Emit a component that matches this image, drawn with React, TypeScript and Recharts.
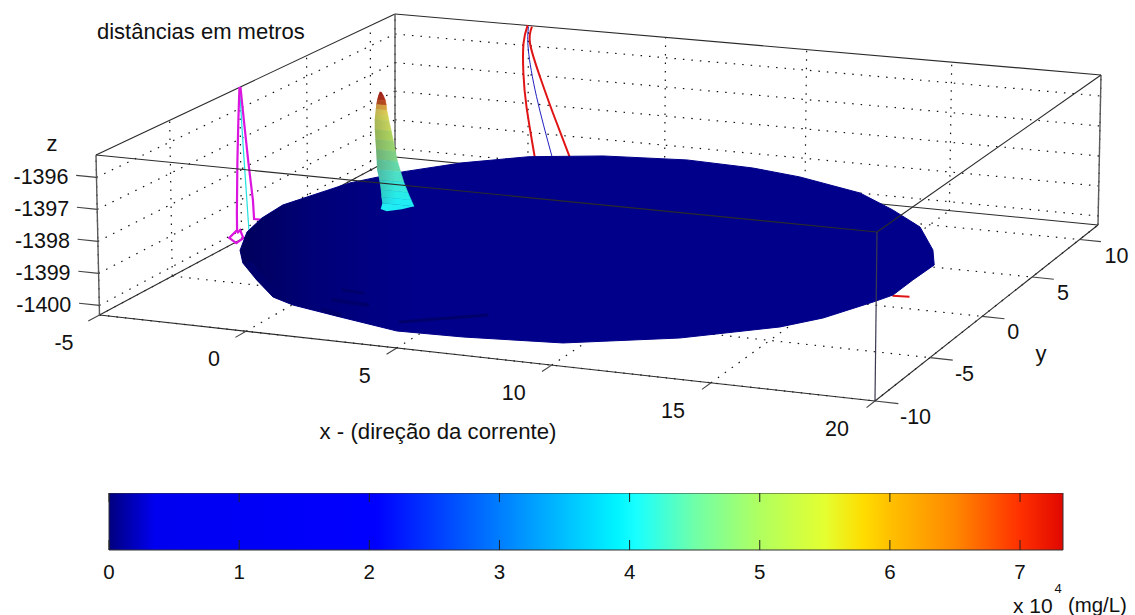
import { Area, ComposedChart, ReferenceLine, Scatter, ScatterChart, XAxis, YAxis } from 'recharts'

const FONT = '"Liberation Sans", Arial, sans-serif'

// axis ranges and ticks
const X_RANGE = [-5, 20]
const Y_RANGE = [-10, 12]
const Z_RANGE = [-1400.3, -1395.3]
const xTicks = [-5, 0, 5, 10, 15, 20]
const yTicks = [-10, -5, 0, 5, 10]
const zTicks = [-1396, -1397, -1398, -1399, -1400]
const colorTicks = [0, 1, 2, 3, 4, 5, 6, 7]

// cloud rim, upper back half then lower front half (metres)
const rimX = [-2.2, -2.98, -3.32, -3.43, -2.66, -1.67, -0.34, 1.39, 3.65, 6.44, 8.85, 10.7, 13.22, 14.91, 16.4, 17.67, 18.28, 17.06, 17.07, 16.78, 15.99, 15.14, 12.81, 9.8, 6.79, 4.68, 2.43, 0.51, -0.46, -1.81, -3.12, -3.92]
const rimY = [-5.81, -3.71, -1.92, -0.14, 3.32, 5.34, 7.21, 8.82, 9.83, 10.35, 10.12, 9.55, 8.26, 6.56, 4.82, 2.27, 0.56, 2.2, 0.28, -0.72, -3.04, -4.49, -6.79, -8.62, -9.13, -9.26, -8.45, -7.73, -7.11, -5.46, -3.75, -2.32]
const rimZ = [-1399, -1399, -1399, -1399, -1399, -1399, -1399, -1399, -1399, -1399, -1399, -1399, -1399, -1399, -1399, -1399, -1399, -1400, -1400, -1400, -1400, -1400, -1400, -1400, -1400, -1400, -1400, -1400, -1400, -1400, -1400, -1400]

// darker folds on the underside of the cloud
const foldX = [[1.19, 1.92], [1.4, 2.62], [1.61, 2.33], [4.35, 6.48], [-2.8, -1.66, -0.66]]
const foldY = [[-5.54, -5.63], [-6.73, -6.87], [-7.91, -8.24], [-8.29, -6.56], [-3.89, -5.4, -6.55]]
const foldWidth = [3, 4, 4, 3, 7]

// plume silhouette, slice by slice from the tip down
const plumeZ = [-1395.03, -1395.16, -1395.29, -1395.45, -1395.61, -1395.78, -1395.94, -1396.27, -1396.59, -1396.92, -1397.24, -1397.57, -1397.9, -1398.22, -1398.45, -1398.65]
const plumeLeft = [-0.03, -0.08, -0.12, -0.15, -0.17, -0.19, -0.21, -0.21, -0.19, -0.17, -0.15, -0.14, -0.06, -0.01, 0.01, 0.04]
const plumeRight = [0.03, 0.11, 0.17, 0.2, 0.22, 0.26, 0.29, 0.37, 0.44, 0.51, 0.58, 0.69, 0.8, 0.94, 1.05, 1.15]
const plumeColors = ['#b41c10', '#c02410', '#cc4a18', '#f0b040', '#f0dc58', '#e4e458', '#d0e060', '#b4dc60', '#9cd870', '#80d488', '#64d8a8', '#4ce0c8', '#38e8dc', '#28ece8', '#20ecf4']
const plumeBaseX = [1.15, 0.95, 0.6, 0.3, 0.04]
const plumeBaseY = [0, -0.5, -0.9, -0.7, 0]

// contour projected on the left wall
const magentaLeftY = [-0.02, -0.13, -0.24, -0.32, -0.32, -0.9, -0.39, 0.13, -0.1, -0.32]
const magentaLeftZ = [-1395.29, -1396.35, -1397.74, -1399.37, -1399.93, -1400.05, -1400.34, -1400.3, -1399.98, -1400.03]
const magentaRightY = [0.05, 0.27, 0.57, 0.87, 0.94, 1.61]
const magentaRightZ = [-1395.3, -1396.44, -1397.92, -1399.22, -1399.86, -1400.05]
const cyanWallY = [-0.02, 0.2, 0.57]
const cyanWallZ = [-1395.29, -1397.31, -1400.3]

// contour projected on the back wall
const redLeftX = [-0.03, -0.18, -0.18, -0.06, 0.25]
const redLeftZ = [-1395.29, -1395.93, -1396.97, -1398.12, -1399.82]
const redRightX = [0.13, 0.06, 0.43, 0.92, 1.54]
const redRightZ = [-1395.33, -1395.91, -1397.03, -1398.26, -1399.71]
const blueWallX = [0, 0, 0.31, 0.89]
const blueWallZ = [-1395.34, -1396.15, -1397.74, -1399.76]

// contour on the floor, sticking out at the far end
const redFloorX = [16.73, 17.25]
const redFloorY = [1.24, 1.33]

// colorbar
const COLOR_MAX = 7.33
const jetValues = [0, 0.35, 2.05, 3.9, 4.05, 4.5, 5, 5.5, 5.8, 6, 6.5, 7, 7.33]
const jetColors = ['#00007f', '#0000f0', '#0000ff', '#00f4ff', '#18ffff', '#70ffa8', '#b0ff60', '#e4ff30', '#ffdc00', '#ffc000', '#ff8800', '#ff3000', '#e00800']

// screen position of the eight box corners, [bottom, top]
const CORNERS = {
  a: [[99.5, 315], [96, 155]],
  b: [[875, 401], [877, 232]],
  c: [[1098, 225], [1101, 75]],
  d: [[395, 157], [395, 14]],
}

const warp = (t: number, r: number) => t / (t + r * (1 - t))
const mix = (p: number[], q: number[], t: number) => [p[0] + (q[0] - p[0]) * t, p[1] + (q[1] - p[1]) * t]

// perspective view of the box, the MATLAB camera
function project(x: number, y: number, z: number) {
  const u = warp((x - X_RANGE[0]) / (X_RANGE[1] - X_RANGE[0]), 1.0726)
  const v = warp((y - Y_RANGE[0]) / (Y_RANGE[1] - Y_RANGE[0]), 0.9)
  const w = (z - Z_RANGE[0]) / (Z_RANGE[1] - Z_RANGE[0])
  const level = (i: number) =>
    mix(mix(CORNERS.a[i], CORNERS.b[i], u), mix(CORNERS.d[i], CORNERS.c[i], u), v)
  const [px, py] = mix(level(0), level(1), w)
  return { px, py }
}

const Blank = () => null

function path(key: string, pts: number[][], line: Record<string, unknown>, joint: 'linear' | 'natural' = 'linear') {
  return (
    <Scatter
      key={key}
      data={pts.map(([x, y, z]) => project(x, y, z))}
      line={line}
      lineType="joint"
      lineJointType={joint}
      shape={Blank}
      isAnimationActive={false}
    />
  )
}

const [x0, x1] = X_RANGE
const [y0, y1] = Y_RANGE
const [z0, z1] = Z_RANGE

const DOT = { stroke: '#111', strokeWidth: 1.2, strokeDasharray: '1.5 7' }
const EDGE = { stroke: '#2a2a2a', strokeWidth: 1.1 }
const POST = { stroke: '#5a5a5a', strokeWidth: 1.4 }
const TICK = { stroke: '#444', strokeWidth: 1.1 }

const gridLines = [
  ...xTicks.map(x => [[x, y0, z0], [x, y1, z0]]),
  ...xTicks.map(x => [[x, y1, z0], [x, y1, z1]]),
  ...yTicks.map(y => [[x0, y, z0], [x1, y, z0]]),
  ...yTicks.map(y => [[x0, y, z0], [x0, y, z1]]),
  ...zTicks.map(z => [[x0, y0, z], [x0, y1, z]]),
  ...zTicks.map(z => [[x0, y1, z], [x1, y1, z]]),
]

const backEdges = [
  [[x0, y0, z0], [x0, y1, z0]],
  [[x0, y1, z0], [x1, y1, z0]],
  [[x1, y0, z0], [x1, y1, z0]],
  [[x0, y0, z0], [x1, y0, z0]],
  [[x0, y0, z1], [x0, y1, z1]],
  [[x0, y1, z1], [x1, y1, z1]],
]

const backPosts = [
  [[x0, y1, z0], [x0, y1, z1]],
  [[x1, y1, z0], [x1, y1, z1]],
  [[x0, y0, z0], [x0, y0, z1]],
]

const frontEdges = [
  [[x0, y0, z1], [x1, y0, z1]],
  [[x1, y0, z1], [x1, y1, z1]],
]

const tickMarks = [
  ...xTicks.map(x => [[x, y0, z0], [x, y0 - 0.75, z0]]),
  ...yTicks.map(y => [[x1, y, z0], [x1 + 0.7, y, z0]]),
  ...zTicks.map(z => [[x0, y0, z], [x0 - 0.7, y0, z]]),
]

const plumeStrips = plumeColors.map((_, i) => [
  [plumeLeft[i], 0, plumeZ[i]],
  [plumeRight[i], 0, plumeZ[i]],
  [plumeRight[i + 1], 0, plumeZ[i + 1]],
  [plumeLeft[i + 1], 0, plumeZ[i + 1]],
])

const tickLabels = [
  ...xTicks.map(x => ({ ...project(x, y0, z0), label: String(x), dx: -26, dy: 28, anchor: 'end' })),
  ...yTicks.map(y => ({ ...project(x1, y, z0), label: String(y), dx: 25, dy: 16, anchor: 'start' })),
  ...zTicks.map(z => ({ ...project(x0, y0, z), label: String(z), dx: -28, dy: 0, anchor: 'end' })),
]

const notes = [
  { px: 97, py: 31, label: 'distâncias em metros', size: 22, anchor: 'start' },
  { px: 438, py: 431, label: 'x - (direção da corrente)', size: 22.2, anchor: 'middle' },
  { px: 52, py: 143, label: 'z', size: 22, anchor: 'middle' },
  { px: 1041, py: 353, label: 'y', size: 22, anchor: 'middle' },
  { px: 1013, py: 605, label: 'x 10', size: 21, anchor: 'start' },
  { px: 1058, py: 588, label: '4', size: 13, anchor: 'middle' },
  { px: 1068, py: 605, label: '(mg/L)', size: 20.4, anchor: 'start' },
]

function LabelShape(p: any) {
  const d = p.payload
  return (
    <text
      x={p.cx + (d.dx ?? 0)}
      y={p.cy + (d.dy ?? 0)}
      textAnchor={d.anchor}
      dominantBaseline="central"
      fontFamily={FONT}
      fontSize={d.size ?? 21.5}
      fill="#111"
    >
      {d.label}
    </text>
  )
}

function ColorTick(p: any) {
  return (
    <g>
      <line x1={p.x} x2={p.x} y1={p.y - 57} y2={p.y - 48} stroke="#222" />
      <line x1={p.x} x2={p.x} y1={p.y - 10} y2={p.y} stroke="#222" />
      <text x={p.x} y={p.y + 21} textAnchor="middle" dominantBaseline="central" fontFamily={FONT} fontSize={20.5} fill="#111">
        {p.payload.value}
      </text>
    </g>
  )
}

const colorRange = [{ v: 0, h: 1 }, { v: COLOR_MAX, h: 1 }]

export default function App() {
  return (
    <div style={{ position: 'absolute', left: 0, top: 0, width: 1135, height: 615, background: '#fff', overflow: 'hidden' }}>
      <div style={{ position: 'absolute', left: 0, top: 0 }}>
        <ScatterChart width={1135} height={615} margin={{ top: 0, right: 0, bottom: 0, left: 0 }}>
          <defs>
            <linearGradient id="plumeShade" x1="0" y1="0" x2="1" y2="0">
              <stop offset="0" stopColor="#404840" stopOpacity={0.28} />
              <stop offset="0.55" stopColor="#404840" stopOpacity={0} />
            </linearGradient>
            <linearGradient id="cloudShade" x1="0" y1="0" x2="1" y2="0">
              <stop offset="0" stopColor="#000048" stopOpacity={0.7} />
              <stop offset="0.1" stopColor="#000048" stopOpacity={0.3} />
              <stop offset="0.25" stopColor="#000048" stopOpacity={0} />
            </linearGradient>
          </defs>
          <XAxis type="number" dataKey="px" domain={[0, 1135]} hide />
          <YAxis type="number" dataKey="py" domain={[0, 615]} reversed hide />

          {gridLines.map((pts, i) => path(`grid-${i}`, pts, DOT))}
          {backEdges.map((pts, i) => path(`back-${i}`, pts, EDGE))}
          {backPosts.map((pts, i) => path(`post-${i}`, pts, POST))}
          {tickMarks.map((pts, i) => path(`tick-${i}`, pts, TICK))}

          {path('blue-wall', blueWallX.map((x, i) => [x, y1, blueWallZ[i]]), { stroke: '#2020c0', strokeWidth: 1 }, 'natural')}
          {path('red-left', redLeftX.map((x, i) => [x, y1, redLeftZ[i]]), { stroke: '#e01414', strokeWidth: 2 }, 'natural')}
          {path('red-right', redRightX.map((x, i) => [x, y1, redRightZ[i]]), { stroke: '#e01414', strokeWidth: 2 }, 'natural')}
          {path('cyan-wall', cyanWallY.map((y, i) => [x0, y, cyanWallZ[i]]), { stroke: '#20e0e0', strokeWidth: 1.2 })}
          {path('magenta-left', magentaLeftY.map((y, i) => [x0, y, magentaLeftZ[i]]), { stroke: '#dc14e0', strokeWidth: 2.2 })}
          {path('magenta-right', magentaRightY.map((y, i) => [x0, y, magentaRightZ[i]]), { stroke: '#dc14e0', strokeWidth: 2.2 })}
          {path('red-floor', redFloorX.map((x, i) => [x, redFloorY[i], z0]), { stroke: '#e01414', strokeWidth: 2 })}

          {path('rim', rimX.map((x, i) => [x, rimY[i], rimZ[i]]), { fill: '#00008a', stroke: '#00008a', strokeWidth: 1 })}
          {path('rim-shade', rimX.map((x, i) => [x, rimY[i], rimZ[i]]), { fill: 'url(#cloudShade)', stroke: 'none' })}
          {foldX.map((xs, k) =>
            path(`fold-${k}`, xs.map((x, i) => [x, foldY[k][i], -1400]), { stroke: '#00006c', strokeWidth: foldWidth[k], strokeLinecap: 'round' }),
          )}

          {path('plume-base', plumeBaseX.map((x, i) => [x, plumeBaseY[i], plumeZ[15]]), { fill: '#20ecf4', stroke: 'none' })}
          {plumeStrips.map((pts, i) =>
            path(`plume-${i}`, pts, { fill: plumeColors[i], stroke: plumeColors[i], strokeWidth: 0.5 }),
          )}
          {path('plume-shade', [...plumeLeft.map((x, i) => [x, 0, plumeZ[i]]), ...plumeRight.map((x, i) => [x, 0, plumeZ[i]]).reverse()], { fill: 'url(#plumeShade)', stroke: 'none' })}

          {frontEdges.map((pts, i) => path(`front-${i}`, pts, EDGE))}
          {path('front-post', [[x1, y0, z0], [x1, y0, z1]], { stroke: '#3a3a50', strokeWidth: 1.2 })}

          <Scatter data={tickLabels} shape={LabelShape} isAnimationActive={false} />
          <Scatter data={notes} shape={LabelShape} isAnimationActive={false} />
        </ScatterChart>
      </div>

      <div style={{ position: 'absolute', left: 0, top: 493 }}>
        <ComposedChart width={1135} height={122} data={colorRange} margin={{ top: 0, right: 72, bottom: 0, left: 109 }}>
          <defs>
            <linearGradient id="jet" x1="0" y1="0" x2="1" y2="0">
              {jetValues.map((v, i) => (
                <stop key={v} offset={v / COLOR_MAX} stopColor={jetColors[i]} />
              ))}
            </linearGradient>
          </defs>
          <XAxis
            type="number"
            dataKey="v"
            domain={[0, COLOR_MAX]}
            ticks={colorTicks}
            interval={0}
            height={65}
            tickLine={false}
            tickSize={0}
            tickMargin={0}
            tick={ColorTick}
            axisLine={{ stroke: '#333' }}
          />
          <YAxis type="number" domain={[0, 1]} hide />
          <Area type="linear" dataKey="h" fill="url(#jet)" fillOpacity={1} stroke="none" isAnimationActive={false} />
          <ReferenceLine x={COLOR_MAX} stroke="#333" />
          <ReferenceLine x={0} stroke="#333" />
          <ReferenceLine y={1} stroke="#333" />
        </ComposedChart>
      </div>
    </div>
  )
}
